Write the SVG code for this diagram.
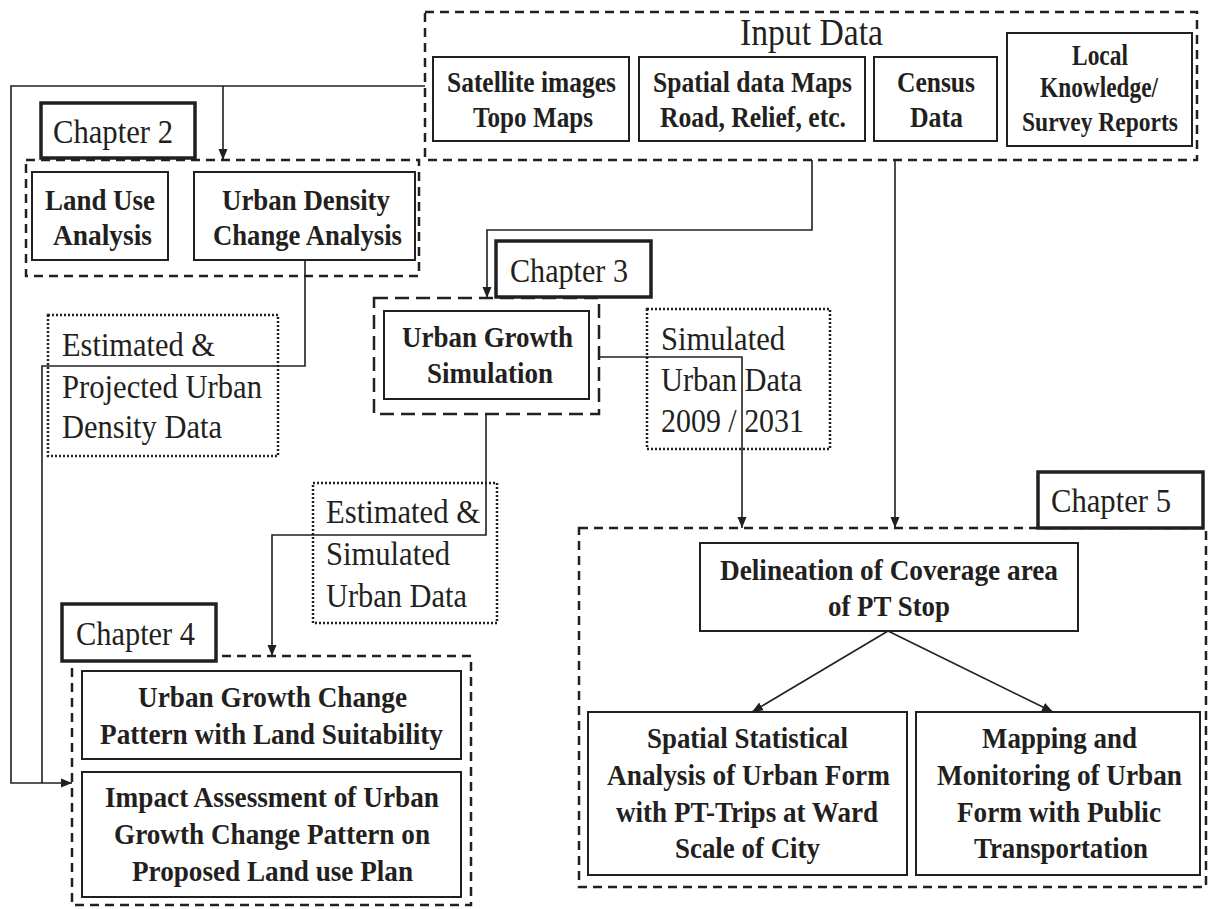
<svg xmlns="http://www.w3.org/2000/svg" width="1210" height="909" viewBox="0 0 1210 909">
  <style>
    .bg { fill: #ffffff; }
    .box { fill: #ffffff; stroke: #231f20; stroke-width: 2; }
    .chap { fill: #ffffff; stroke: #231f20; stroke-width: 3.5; }
    .group { fill: none; stroke: #231f20; stroke-width: 2.5; stroke-dasharray: 9 6; }
    .group-long { fill: none; stroke: #231f20; stroke-width: 2.5; stroke-dasharray: 14 7; }
    .note { fill: #ffffff; stroke: #231f20; stroke-width: 2.5; stroke-dasharray: 2 2; }
    .link { fill: none; stroke: #231f20; stroke-width: 1.6; }
    .b { font-family: "Liberation Serif", "Times New Roman", serif; font-weight: bold; font-size: 29px; fill: #231f20; }
    .bs { font-family: "Liberation Serif", "Times New Roman", serif; font-weight: bold; font-size: 27px; fill: #231f20; }
    .r { font-family: "Liberation Serif", "Times New Roman", serif; font-size: 33px; fill: #231f20; }
    .title { font-family: "Liberation Serif", "Times New Roman", serif; font-size: 38px; fill: #231f20; }
  </style>
  <defs>
    <marker id="arrow" markerUnits="userSpaceOnUse" markerWidth="12" markerHeight="10" refX="11" refY="5" orient="auto">
      <path d="M0,0.5 L11,5 L0,9.5 Z" fill="#231f20"/>
    </marker>
  </defs>

  <rect class="bg" x="0" y="0" width="1210" height="909"/>

  <!-- Input data group -->
  <g id="input-data">
    <rect class="group" x="425" y="12" width="772" height="148"/>
    <text class="title" x="740" y="45" textLength="143" lengthAdjust="spacingAndGlyphs">Input Data</text>
    <g id="satellite">
      <rect class="box" x="433" y="57" width="196" height="84"/>
      <text class="b" x="447" y="92" textLength="169" lengthAdjust="spacingAndGlyphs">Satellite images</text>
      <text class="b" x="473" y="127" textLength="120" lengthAdjust="spacingAndGlyphs">Topo Maps</text>
    </g>
    <g id="spatial-data">
      <rect class="box" x="639" y="57" width="226" height="84"/>
      <text class="b" x="653" y="92" textLength="199" lengthAdjust="spacingAndGlyphs">Spatial data Maps</text>
      <text class="b" x="660" y="127" textLength="186" lengthAdjust="spacingAndGlyphs">Road, Relief, etc.</text>
    </g>
    <g id="census">
      <rect class="box" x="874" y="57" width="123" height="84"/>
      <text class="b" x="897" y="92" textLength="78" lengthAdjust="spacingAndGlyphs">Census</text>
      <text class="b" x="910" y="127" textLength="53" lengthAdjust="spacingAndGlyphs">Data</text>
    </g>
    <g id="local-knowledge">
      <rect class="box" x="1007" y="33" width="185" height="113"/>
      <text class="b" x="1072" y="65" textLength="56" lengthAdjust="spacingAndGlyphs">Local</text>
      <text class="b" x="1040" y="97" textLength="118" lengthAdjust="spacingAndGlyphs">Knowledge/</text>
      <text class="bs" x="1022" y="131" textLength="156" lengthAdjust="spacingAndGlyphs">Survey Reports</text>
    </g>
  </g>

  <!-- Chapter 2 -->
  <g id="chapter-2">
    <rect class="group" x="26" y="160" width="393" height="116"/>
    <rect class="chap" x="41" y="103" width="154" height="55"/>
    <text class="r" x="53" y="143" textLength="120" lengthAdjust="spacingAndGlyphs">Chapter 2</text>
    <g id="land-use">
      <rect class="box" x="32" y="172" width="136" height="88"/>
      <text class="b" x="45" y="210" textLength="110" lengthAdjust="spacingAndGlyphs">Land Use</text>
      <text class="b" x="53" y="245" textLength="99" lengthAdjust="spacingAndGlyphs">Analysis</text>
    </g>
    <g id="urban-density">
      <rect class="box" x="194" y="172" width="221" height="88"/>
      <text class="b" x="222" y="210" textLength="168" lengthAdjust="spacingAndGlyphs">Urban Density</text>
      <text class="b" x="213" y="245" textLength="189" lengthAdjust="spacingAndGlyphs">Change Analysis</text>
    </g>
  </g>

  <!-- Chapter 3 -->
  <g id="chapter-3">
    <rect class="group-long" x="374" y="298" width="225" height="116"/>
    <rect class="chap" x="496" y="241" width="155" height="56"/>
    <text class="r" x="510" y="282" textLength="118" lengthAdjust="spacingAndGlyphs">Chapter 3</text>
    <g id="urban-growth-simulation">
      <rect class="box" x="384" y="311" width="205" height="88"/>
      <text class="b" x="402" y="347" textLength="171" lengthAdjust="spacingAndGlyphs">Urban Growth</text>
      <text class="b" x="427" y="383" textLength="126" lengthAdjust="spacingAndGlyphs">Simulation</text>
    </g>
  </g>

  <!-- Chapter 4 -->
  <g id="chapter-4">
    <rect class="group" x="72" y="656" width="399" height="249"/>
    <rect class="chap" x="62" y="604" width="154" height="57"/>
    <text class="r" x="76" y="645" textLength="119" lengthAdjust="spacingAndGlyphs">Chapter 4</text>
    <g id="growth-change-pattern">
      <rect class="box" x="82" y="671" width="379" height="88"/>
      <text class="b" x="138" y="707" textLength="269" lengthAdjust="spacingAndGlyphs">Urban Growth Change</text>
      <text class="b" x="100" y="744" textLength="343" lengthAdjust="spacingAndGlyphs">Pattern with Land Suitability</text>
    </g>
    <g id="impact-assessment">
      <rect class="box" x="82" y="772" width="379" height="125"/>
      <text class="b" x="105" y="807" textLength="334" lengthAdjust="spacingAndGlyphs">Impact Assessment of Urban</text>
      <text class="b" x="114" y="844" textLength="316" lengthAdjust="spacingAndGlyphs">Growth Change Pattern on</text>
      <text class="b" x="132" y="881" textLength="281" lengthAdjust="spacingAndGlyphs">Proposed Land use Plan</text>
    </g>
  </g>

  <!-- Chapter 5 -->
  <g id="chapter-5">
    <rect class="group" x="579" y="528" width="627" height="359"/>
    <rect class="chap" x="1038" y="472" width="165" height="56"/>
    <text class="r" x="1051" y="512" textLength="120" lengthAdjust="spacingAndGlyphs">Chapter 5</text>
    <g id="coverage-area">
      <rect class="box" x="700" y="543" width="378" height="88"/>
      <text class="b" x="720" y="580" textLength="338" lengthAdjust="spacingAndGlyphs">Delineation of Coverage area</text>
      <text class="b" x="828" y="616" textLength="122" lengthAdjust="spacingAndGlyphs">of PT Stop</text>
    </g>
    <g id="spatial-statistical">
      <rect class="box" x="588" y="712" width="319" height="163"/>
      <text class="b" x="647" y="748" textLength="201" lengthAdjust="spacingAndGlyphs">Spatial Statistical</text>
      <text class="b" x="607" y="785" textLength="283" lengthAdjust="spacingAndGlyphs">Analysis of Urban Form</text>
      <text class="b" x="616" y="822" textLength="262" lengthAdjust="spacingAndGlyphs">with PT-Trips at Ward</text>
      <text class="b" x="675" y="858" textLength="145" lengthAdjust="spacingAndGlyphs">Scale of City</text>
    </g>
    <g id="mapping-monitoring">
      <rect class="box" x="916" y="712" width="284" height="163"/>
      <text class="b" x="982" y="748" textLength="155" lengthAdjust="spacingAndGlyphs">Mapping and</text>
      <text class="b" x="937" y="785" textLength="245" lengthAdjust="spacingAndGlyphs">Monitoring of Urban</text>
      <text class="b" x="957" y="822" textLength="204" lengthAdjust="spacingAndGlyphs">Form with Public</text>
      <text class="b" x="974" y="858" textLength="174" lengthAdjust="spacingAndGlyphs">Transportation</text>
    </g>
  </g>

  <!-- Data notes -->
  <g id="projected-density-data">
    <rect class="note" x="48" y="315" width="230" height="141"/>
    <text class="r" x="62" y="356" textLength="153" lengthAdjust="spacingAndGlyphs">Estimated &amp;</text>
    <text class="r" x="62" y="398" textLength="200" lengthAdjust="spacingAndGlyphs">Projected Urban</text>
    <text class="r" x="62" y="438" textLength="160" lengthAdjust="spacingAndGlyphs">Density Data</text>
  </g>
  <g id="simulated-urban-data">
    <rect class="note" x="647" y="309" width="183" height="140"/>
    <text class="r" x="661" y="350" textLength="124" lengthAdjust="spacingAndGlyphs">Simulated</text>
    <text class="r" x="661" y="391" textLength="141" lengthAdjust="spacingAndGlyphs">Urban Data</text>
    <text class="r" x="661" y="432" textLength="143" lengthAdjust="spacingAndGlyphs">2009 / 2031</text>
  </g>
  <g id="estimated-simulated-data">
    <rect class="note" x="313" y="483" width="184" height="140"/>
    <text class="r" x="326" y="523" textLength="154" lengthAdjust="spacingAndGlyphs">Estimated &amp;</text>
    <text class="r" x="326" y="565" textLength="124" lengthAdjust="spacingAndGlyphs">Simulated</text>
    <text class="r" x="326" y="607" textLength="141" lengthAdjust="spacingAndGlyphs">Urban Data</text>
  </g>

  <!-- Connectors -->
  <g id="connectors">
    <path class="link" d="M425,86 H11 V783 H72" marker-end="url(#arrow)"/>
    <path class="link" d="M223,86 V160" marker-end="url(#arrow)"/>
    <path class="link" d="M305,260 V366 H42 V783"/>
    <path class="link" d="M812,160 V230 H487 V298" marker-end="url(#arrow)"/>
    <path class="link" d="M486,414 V535 H272 V656" marker-end="url(#arrow)"/>
    <path class="link" d="M599,357 H742 V528" marker-end="url(#arrow)"/>
    <path class="link" d="M895,160 V528" marker-end="url(#arrow)"/>
    <path class="link" d="M888,631 L752,712" marker-end="url(#arrow)"/>
    <path class="link" d="M888,631 L1053,712" marker-end="url(#arrow)"/>
  </g>
</svg>
